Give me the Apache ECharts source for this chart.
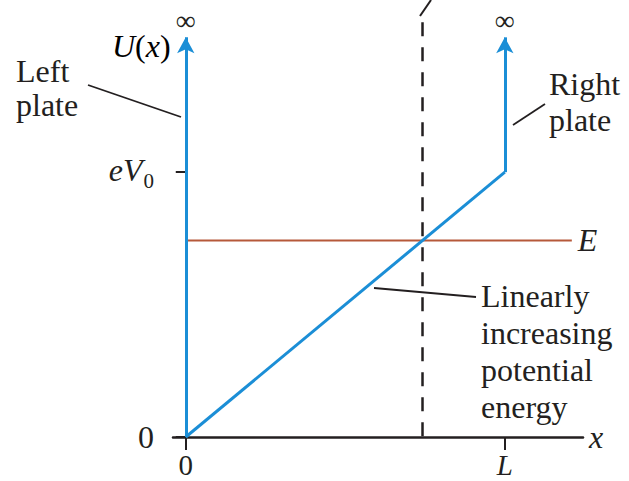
<!DOCTYPE html>
<html>
<head>
<meta charset="utf-8">
<script src="https://cdn.jsdelivr.net/npm/echarts@6/dist/echarts.min.js"></script>
<style>
  html, body { margin: 0; padding: 0; background: #ffffff; }
  #chart { width: 629px; height: 481px; }
</style>
</head>
<body>
<div id="chart"></div>
<script>
// Potential energy U(x) between two plates; x in units of L, U in units of eV0
const potentialX = [0, 1];          // linear rise across the gap
const potentialU = [0, 1];          // from 0 at the left plate to eV0 at the right plate
const leftPlateX = 0;
const rightPlateX = 1;
const barrierTop = 1;               // eV0
const wallCutoff = 1.509;           // walls rise to infinity; drawn up to here with arrows
const energyE = 0.742;              // particle energy E
const energyLineEnd = 1.21;         // E line runs a little past L
const turningTop = 1.566;           // top of the dashed turning-point line
const xTickValues = [0, 1];
const xTickLabels = ['0', 'L'];
const yTickValues = [0, 1];
const yTickLabels = ['0', 'eV0'];

// classical turning point: where the linear potential equals E
const turningX = potentialX[0] + (energyE - potentialU[0]) / (potentialU[1] - potentialU[0]) * (potentialX[1] - potentialX[0]);

const SERIF = "'Liberation Serif', 'DejaVu Serif', serif";
const INK = '#231f20';
const BLUE = '#1b8ed6';
const BROWN = '#b6593a';
const FS = 32;

const chart = echarts.init(document.getElementById('chart'), null, { renderer: 'svg' });

const yRich = {
  n: { fontFamily: SERIF, fontSize: FS, color: INK, lineHeight: 30 },
  vi: { fontFamily: SERIF, fontSize: FS, color: INK, fontStyle: 'italic', verticalAlign: 'top', lineHeight: 36 },
  s: { fontFamily: SERIF, fontSize: 21, color: INK, verticalAlign: 'top', lineHeight: 21, padding: [16, 0, 0, 1] }
};
const xRich = {
  n: { fontFamily: SERIF, fontSize: 29, color: INK, lineHeight: 26 },
  i: { fontFamily: SERIF, fontSize: 29, color: INK, fontStyle: 'italic', lineHeight: 26 }
};

chart.setOption({
  animation: false,
  backgroundColor: '#ffffff',
  grid: { left: 173, right: 46, top: 0, bottom: 44, containLabel: false },
  xAxis: {
    type: 'value',
    min: -0.04,
    max: 1.245,
    name: 'x',
    nameLocation: 'end',
    nameGap: 6,
    nameTextStyle: { fontFamily: SERIF, fontSize: FS, fontStyle: 'italic', color: INK, verticalAlign: 'middle', padding: [0, 0, 6, 0] },
    axisLine: { show: true, onZero: false, lineStyle: { color: INK, width: 2.5 } },
    axisTick: { show: true, customValues: xTickValues, length: 13, inside: false, lineStyle: { color: INK, width: 2 } },
    axisLabel: {
      show: true,
      customValues: xTickValues,
      margin: 15,
      formatter: function (v) {
        const k = xTickValues.indexOf(v);
        const t = k >= 0 ? xTickLabels[k] : '';
        return t === 'L' ? '{i|L}' : '{n|' + t + '}';
      },
      rich: xRich
    },
    splitLine: { show: false }
  },
  yAxis: {
    type: 'value',
    min: 0,
    max: 1.65,
    axisLine: { show: true, onZero: true, lineStyle: { color: INK, width: 0, opacity: 0 } },
    axisTick: { show: true, customValues: yTickValues, length: 10, inside: false, lineStyle: { color: INK, width: 2 } },
    axisLabel: {
      show: true,
      customValues: yTickValues,
      margin: 19,
      formatter: function (v) {
        const k = yTickValues.indexOf(v);
        const t = k >= 0 ? yTickLabels[k] : '';
        return t === 'eV0' ? '{vi|eV}{s|0}' : '{n|' + t + '}';
      },
      rich: yRich
    },
    splitLine: { show: false }
  },
  series: [
    {
      // energy level E
      type: 'line',
      z: 2,
      data: [[leftPlateX, energyE], [energyLineEnd, energyE]],
      symbol: 'none',
      lineStyle: { color: BROWN, width: 2 },
      endLabel: {
        show: true,
        formatter: '{i|E}',
        distance: 6,
        rich: { i: { fontFamily: SERIF, fontSize: FS, color: INK, fontStyle: 'italic' } }
      },
      silent: true
    },
    {
      // dashed line through the turning point
      type: 'line',
      z: 3,
      data: [[turningX, turningTop], [turningX, 0]],
      symbol: 'none',
      lineStyle: { color: INK, width: 2.5, type: [14, 11] },
      silent: true
    },
    {
      // linearly increasing potential energy, with the two plate walls
      type: 'line',
      z: 4,
      data: potentialX.map(function (x, k) { return [x, potentialU[k] * barrierTop]; }),
      symbol: 'none',
      lineStyle: { color: BLUE, width: 3 },
      silent: true,
      markLine: {
        silent: true,
        symbol: ['none', 'arrow'],
        symbolSize: [13, 16],
        lineStyle: { color: BLUE, width: 3, type: 'solid' },
        label: {
          show: true,
          position: 'end',
          formatter: '∞',
          distance: 3,
          fontFamily: SERIF,
          fontSize: 28,
          color: INK
        },
        data: [
          [{ coord: [leftPlateX, 0] }, { coord: [leftPlateX, wallCutoff] }],
          [{ coord: [rightPlateX, barrierTop] }, { coord: [rightPlateX, wallCutoff] }]
        ]
      }
    }
  ],
  graphic: [
    {
      type: 'text', left: 112, top: 30,
      style: { text: '{i|U}{n|(}{i|x}{n|)}', rich: {
        n: { fontFamily: SERIF, fontSize: FS, color: INK },
        i: { fontFamily: SERIF, fontSize: FS, color: INK, fontStyle: 'italic' }
      } }
    },
    {
      type: 'text', left: 16, top: 54,
      style: { text: 'Left\nplate', fontFamily: SERIF, fontSize: FS, lineHeight: 34, fill: INK }
    },
    {
      type: 'text', left: 549, top: 66,
      style: { text: 'Right\nplate', fontFamily: SERIF, fontSize: FS, lineHeight: 36, fill: INK }
    },
    {
      type: 'text', left: 481, top: 277,
      style: { text: 'Linearly\nincreasing\npotential\nenergy', fontFamily: SERIF, fontSize: FS, lineHeight: 37, fill: INK }
    },
    { type: 'line', shape: { x1: 88, y1: 85, x2: 181, y2: 117 }, style: { stroke: INK, lineWidth: 1.8 } },
    { type: 'line', shape: { x1: 513, y1: 125, x2: 545, y2: 104 }, style: { stroke: INK, lineWidth: 1.8 } },
    { type: 'line', shape: { x1: 374, y1: 288, x2: 476, y2: 297 }, style: { stroke: INK, lineWidth: 1.8 } },
    { type: 'line', shape: { x1: 420, y1: 16, x2: 431, y2: 0 }, style: { stroke: INK, lineWidth: 2 } }
  ]
});
</script>
</body>
</html>
